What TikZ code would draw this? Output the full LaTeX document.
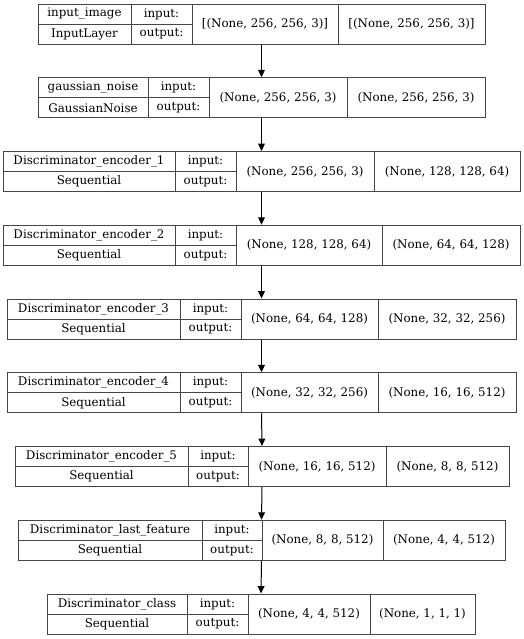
\documentclass[tikz,border=0pt]{standalone}
\usepackage{fontspec}
\setmainfont{DejaVu Serif}
\usepackage{tikz}
\usetikzlibrary{
  arrows.meta
}
\definecolor{kerasline}{RGB}{70,70,70}
\tikzset{
  kerasBox/.style={
    rectangle,
    draw=kerasline,
    line width=0.75pt,
    inner sep=0pt,
    minimum height=30pt
  },
  kerasSep/.style={
    draw=kerasline,
    line width=0.75pt
  },
  kerasText/.style={
    inner sep=0pt,
    font=\fontsize{8.9}{10.5}\selectfont
  },
  kerasArrow/.style={
    -{Triangle[length=5.5pt,width=5pt]},
    line width=0.75pt,
    draw=black
  }
}

\begin{document}
\begin{tikzpicture}[x=0.75pt, y=-0.75pt]
  \useasboundingbox (0,0) rectangle (524,639);

  % one record per layer: name / x borders / texts
  \foreach \id/\xa/\xb/\xc/\xd/\xe/\lname/\ltype/\lin/\lout [count=\i] in {
      inp/38/131/192/338/485/input\_image/InputLayer/{[(None, 256, 256, 3)]}/{[(None, 256, 256, 3)]},
      gn/38/148/209/347/485/gaussian\_noise/GaussianNoise/{(None, 256, 256, 3)}/{(None, 256, 256, 3)},
      enca/3/175/236/374/520/Discriminator\_encoder\_1/Sequential/{(None, 256, 256, 3)}/{(None, 128, 128, 64)},
      encb/3/175/236/382/520/Discriminator\_encoder\_2/Sequential/{(None, 128, 128, 64)}/{(None, 64, 64, 128)},
      encc/7/180/241/378/516/Discriminator\_encoder\_3/Sequential/{(None, 64, 64, 128)}/{(None, 32, 32, 256)},
      encd/7/180/241/378/516/Discriminator\_encoder\_4/Sequential/{(None, 32, 32, 256)}/{(None, 16, 16, 512)},
      ence/15/188/248/386/509/Discriminator\_encoder\_5/Sequential/{(None, 16, 16, 512)}/{(None, 8, 8, 512)},
      last/18/202/262/383/505/Discriminator\_last\_feature/Sequential/{(None, 8, 8, 512)}/{(None, 4, 4, 512)},
      cls/47/187/248/370/475/Discriminator\_class/Sequential/{(None, 4, 4, 512)}/{(None, 1, 1, 1)}%
    } {
    \pgfmathsetmacro{\yt}{4+73.75*(\i-1)}
    \node[kerasBox, minimum width={(\xe-\xa)*0.75pt}]
      (\id) at ({(\xa+\xe)/2},\yt+20) {};
    \draw[kerasSep] (\xa,\yt+20) -- (\xc,\yt+20);
    \draw[kerasSep] (\xb,\yt) -- (\xb,\yt+40)
                    (\xc,\yt) -- (\xc,\yt+40)
                    (\xd,\yt) -- (\xd,\yt+40);
    \node[kerasText] (\id-name) at ({(\xa+\xb)/2},\yt+10) {\lname};
    \node[kerasText] (\id-type) at ({(\xa+\xb)/2},\yt+30) {\ltype};
    \node[kerasText] (\id-inlab) at ({(\xb+\xc)/2},\yt+10) {input:};
    \node[kerasText] (\id-outlab) at ({(\xb+\xc)/2},\yt+30) {output:};
    \node[kerasText] (\id-in) at ({(\xc+\xd)/2},\yt+20) {\lin};
    \node[kerasText] (\id-out) at ({(\xd+\xe)/2},\yt+20) {\lout};
  }

  \foreach \a/\b in {inp/gn, gn/enca, enca/encb, encb/encc,
                     encc/encd, encd/ence, ence/last, last/cls}
    \draw[kerasArrow] (\a.south) -- (\b.north);
\end{tikzpicture}
\end{document}
